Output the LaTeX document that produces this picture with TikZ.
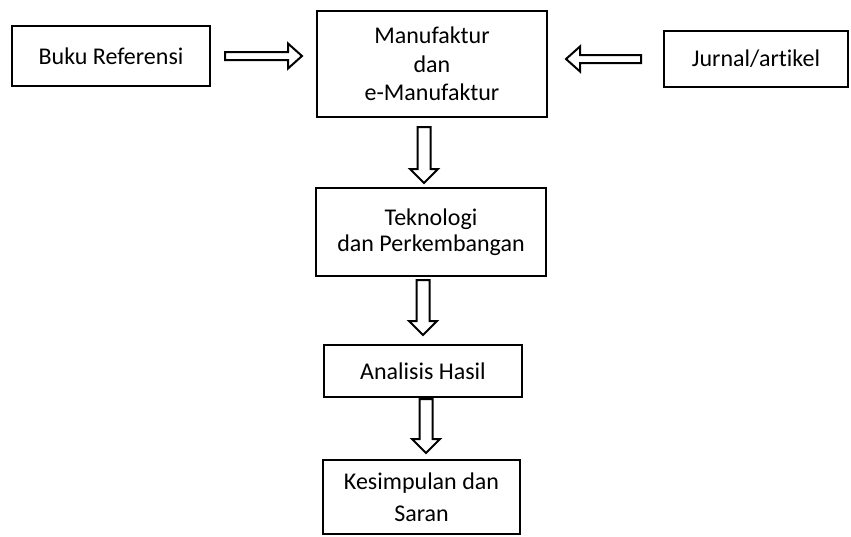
\documentclass[tikz,border=0pt]{standalone}
\usepackage{fontspec}
\setmainfont{Carlito}[Ligatures=NoCommon]
\usetikzlibrary{calc}

\newcommand{\blockarrow}[5]{%
\coordinate (arrbase) at ($(#2)!#5!(#1)$);
\draw[blockline] ($(#1)!#3!90:(#2)$) -- ($(arrbase)!#3!90:(#2)$) -- ($(arrbase)!#4!90:(#2)$)
  -- (#2) -- ($(arrbase)!#4!-90:(#2)$) -- ($(arrbase)!#3!-90:(#2)$) -- ($(#1)!#3!-90:(#2)$) -- cycle;}

\begin{document}
\begin{tikzpicture}[x=0.5pt,y=-0.5pt,font=\fontsize{12}{13.8}\selectfont,
  box/.style={draw,line width=1pt,align=center,inner sep=2pt},
  blockline/.style={draw,line width=1pt,fill=white,line join=miter}]
\useasboundingbox (0,0) rectangle (851,536);
\node[box,minimum width=99pt,minimum height=30pt] (buku) at (111,56) {Buku Referensi};
\node[box,minimum width=115pt,minimum height=53pt] (main) at (432,64) {Manufaktur\\[0.5pt]dan\\[0.5pt]e-Manufaktur};
\node[box,minimum width=92pt,minimum height=28pt] (jurnal) at (756,59) {Jurnal/artikel};
\node[box,minimum width=115pt,minimum height=44pt] (tek) at (431,232) {\raisebox{-2pt}{Teknologi}\\[-1pt]\raisebox{-2pt}{dan Perkembangan}};
\node[box,minimum width=99pt,minimum height=26pt] (anal) at (423,371) {Analisis Hasil};
\node[box,minimum width=98.5pt,minimum height=37pt] (kes) at (421.5,497) {\raisebox{-2.5pt}{Kesimpulan dan}\\[2pt]\raisebox{-2.5pt}{Saran}};
\coordinate (bukuout) at ([xshift=7pt]buku.east);
\coordinate (mainleft) at ([xshift=-7pt,yshift=4pt]main.west);
\coordinate (jurnalout) at ([xshift=-11pt]jurnal.west);
\coordinate (mainright) at ([xshift=9pt,yshift=2.5pt]main.east);
\coordinate (mainout) at ([xshift=-4pt,yshift=-4.5pt]main.south);
\coordinate (tekin) at ([xshift=-3.5pt,yshift=2pt]tek.north);
\coordinate (tekout) at ([xshift=-4pt,yshift=-1.5pt]tek.south);
\coordinate (analin) at ([yshift=4.5pt]anal.north);
\coordinate (analout) at ([xshift=1.5pt,yshift=-0.5pt]anal.south);
\coordinate (kesin) at ([xshift=2.25pt,yshift=3pt]kes.north);
\blockarrow{bukuout}{mainleft}{2pt}{6.25pt}{7pt}
\blockarrow{jurnalout}{mainright}{2pt}{6.25pt}{7pt}
\blockarrow{mainout}{tekin}{3.25pt}{7pt}{7pt}
\blockarrow{tekout}{analin}{3.25pt}{7pt}{7pt}
\blockarrow{analout}{kesin}{3.25pt}{7pt}{7pt}
\end{tikzpicture}
\end{document}
